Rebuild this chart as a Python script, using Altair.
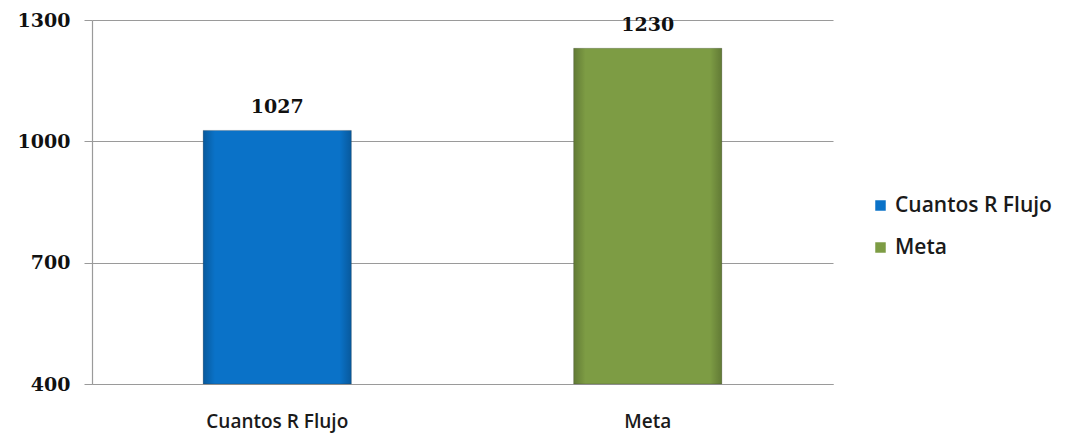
import altair as alt
import pandas as pd

# Series values
categories = ["Cuantos R Flujo", "Meta"]
values = [1027, 1230]
colors = ["#0a72c8", "#7d9c44"]
y_ticks = [400, 700, 1000, 1300]
y_base = 400

df = pd.DataFrame({"categoria": categories, "valor": values})

x_enc = alt.X(
    "categoria:N",
    sort=categories,
    title=None,
    scale=alt.Scale(paddingInner=0.6, paddingOuter=0.3),
    axis=alt.Axis(
        labelAngle=0,
        labelFont="Open Sans",
        labelFontSize=19,
        labelFontWeight=600,
        labelColor="#1a1a1a",
        labelPadding=28,
        ticks=False,
        domainColor="#9a9a9a",
        domainWidth=1.2,
        grid=False,
    ),
)
y_enc = alt.Y(
    "valor:Q",
    title=None,
    scale=alt.Scale(domain=[y_ticks[0], y_ticks[-1]], nice=False, zero=False),
    axis=alt.Axis(
        values=y_ticks,
        format="d",
        labelFont="DejaVu Serif",
        labelFontSize=19,
        labelFontWeight="bold",
        labelColor="#111111",
        labelPadding=14,
        tickSize=8,
        tickColor="#9a9a9a",
        domainColor="#9a9a9a",
        domainWidth=1.2,
        gridColor="#9a9a9a",
        gridWidth=1.2,
    ),
)

bars = alt.Chart(df).mark_bar(stroke="#333333", strokeWidth=0.6, strokeOpacity=0.4).encode(
    x=x_enc,
    y=y_enc,
    y2=alt.datum(y_base),
    color=alt.Color(
        "categoria:N",
        sort=categories,
        scale=alt.Scale(domain=categories, range=colors),
        legend=alt.Legend(
            title=None,
            orient="none",
            legendX=778,
            legendY=175,
            symbolType="square",
            symbolSize=110,
            symbolStrokeWidth=0,
            labelFont="Open Sans",
            labelFontSize=21,
            labelFontWeight=600,
            labelColor="#1a1a1a",
            rowPadding=20,
            labelOffset=4,
        ),
    ),
)

# Soft bevel shading across each bar
shade = alt.Chart(df).mark_bar(
    color=alt.Gradient(
        gradient="linear",
        x1=0, x2=1, y1=0, y2=0,
        stops=[
            alt.GradientStop(offset=0, color="rgba(0,0,0,0.22)"),
            alt.GradientStop(offset=0.08, color="rgba(0,0,0,0.0)"),
            alt.GradientStop(offset=0.92, color="rgba(0,0,0,0.0)"),
            alt.GradientStop(offset=1, color="rgba(0,0,0,0.22)"),
        ],
    )
).encode(x=alt.X("categoria:N", sort=categories), y="valor:Q", y2=alt.datum(y_base))

labels = alt.Chart(df).mark_text(
    font="DejaVu Serif", fontSize=19, fontWeight="bold", color="#111111", dy=-23
).encode(x=alt.X("categoria:N", sort=categories), y="valor:Q", text="valor:Q")

chart = alt.layer(bars, shade, labels).properties(
    width=741,
    height=364,
    autosize=alt.AutoSizeParams(type="none"),
    padding={"left": 92, "top": 20, "right": 238, "bottom": 50},
).configure_view(stroke=None)

chart.save("out.html", embed_options={"renderer": "svg", "actions": False})
